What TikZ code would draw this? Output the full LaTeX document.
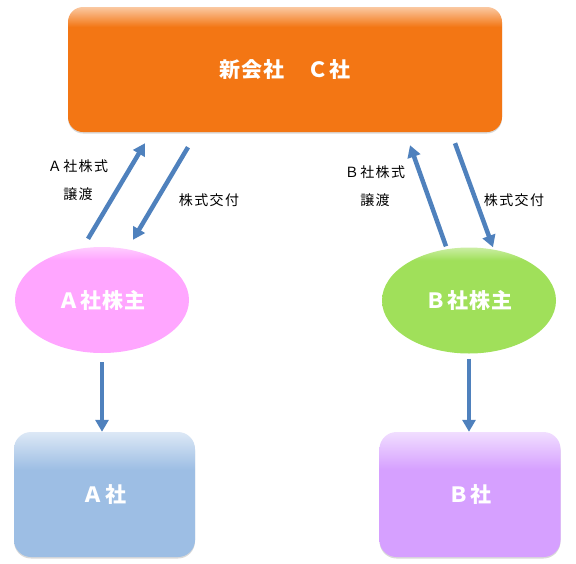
\documentclass[tikz,border=0pt]{standalone}
\usepackage{fontspec}
\setmainfont{Noto Sans CJK JP}
\usetikzlibrary{shapes.geometric,arrows.meta,shadows}

\definecolor{corange}{RGB}{243,118,20}
\definecolor{cpink}{RGB}{255,166,255}
\definecolor{cgreen}{RGB}{160,224,90}
\definecolor{cblue}{RGB}{157,190,228}
\definecolor{cpurple}{RGB}{214,160,255}
\definecolor{carrow}{RGB}{79,129,189}

% light band at the top of each shape
\pgfdeclareverticalshading{shorange}{100bp}{color(0bp)=(corange!85!black); color(26bp)=(corange); color(67bp)=(corange); color(75bp)=(corange!40!white); color(100bp)=(corange!40!white)}
\pgfdeclareverticalshading{shblue}{100bp}{color(0bp)=(cblue); color(60bp)=(cblue); color(75bp)=(cblue!35!white); color(100bp)=(cblue!35!white)}
\pgfdeclareverticalshading{shpurple}{100bp}{color(0bp)=(cpurple); color(60bp)=(cpurple); color(75bp)=(cpurple!35!white); color(100bp)=(cpurple!35!white)}
\pgfdeclareverticalshading{shpink}{100bp}{color(0bp)=(cpink); color(69bp)=(cpink); color(75bp)=(cpink!55!white); color(100bp)=(cpink!55!white)}
\pgfdeclareverticalshading{shgreen}{100bp}{color(0bp)=(cgreen); color(69bp)=(cgreen); color(75bp)=(cgreen!55!white); color(100bp)=(cgreen!55!white)}

\begin{document}
\begin{tikzpicture}[x=1pt,y=-1pt,
  box/.style={rounded corners=17pt, minimum width=181pt, minimum height=125pt, text=white,
    font=\bfseries\fontsize{21}{21}\selectfont\addfontfeature{LetterSpace=5},
    drop shadow={shadow xshift=0pt, shadow yshift=-1.5pt, opacity=.3}},
  owner/.style={ellipse, minimum width=174pt, minimum height=106pt, inner sep=0pt, text=white,
    font=\bfseries\fontsize{21}{21}\selectfont\addfontfeature{LetterSpace=5}},
  lbl/.style={align=center, font=\fontsize{14}{28}\selectfont\addfontfeature{LetterSpace=10}},
  flow/.style={draw=carrow, line width=4.5pt, -{Triangle[width=13pt,length=12pt]}}]
\useasboundingbox (0,0) rectangle (576,563);

\node[box, shading=shorange, minimum width=434pt, rounded corners=15pt] (boxC) at (285,69.5){新会社　Ｃ社};
\node[owner, shading=shpink] (ownA) at (102,300){Ａ社株主};
\node[owner, shading=shgreen] (ownB) at (469,300.5){Ｂ社株主};
\node[box, shading=shblue] (boxA) at (104.5,494.5){Ａ社};
\node[box, shading=shpurple] (boxB) at (470,494.5){Ｂ社};

\draw[flow] ([xshift=-14pt,yshift=8pt]ownA.north) -- ([xshift=-140pt,yshift=-11pt]boxC.south);
\draw[flow] ([xshift=-97pt,yshift=-15pt]boxC.south) -- ([xshift=31pt,yshift=7pt]ownA.north);
\draw[flow] ([xshift=-23pt,yshift=1pt]ownB.north) -- ([xshift=125pt,yshift=-13pt]boxC.south);
\draw[flow] ([xshift=170pt,yshift=-11pt]boxC.south) -- ([xshift=24pt]ownB.north);
\draw[flow] ([yshift=-9pt]ownA.south) -- (ownA.south |- boxA.north);
\draw[flow] ([yshift=-5pt]ownB.south) -- (ownB.south |- boxB.north);

\node[lbl] (giveA) at (78,180){Ａ社株式\\譲渡};
\node[lbl] (payA) at (209,200){株式交付};
\node[lbl] (giveB) at (375,186){Ｂ社株式\\譲渡};
\node[lbl] (payB) at (514,200){株式交付};
\end{tikzpicture}
\end{document}
